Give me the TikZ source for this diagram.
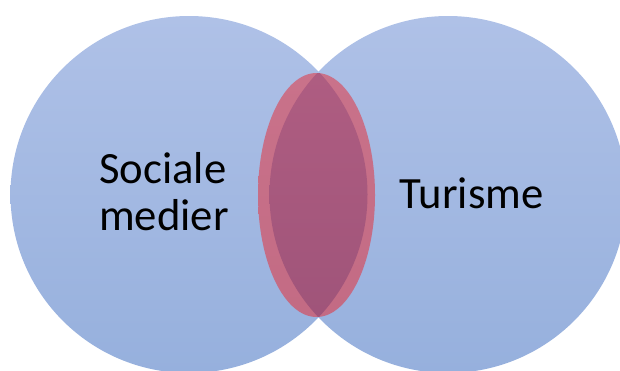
\documentclass[tikz,border=0pt]{standalone}
\usepackage{fontspec}
\setmainfont{Carlito}
\begin{document}
\begin{tikzpicture}[x=1pt,y=-1pt,
  setfill/.style={top color={rgb,255:red,175;green,193;blue,231},
                  bottom color={rgb,255:red,150;green,176;blue,221}},
  ringfill/.style={top color={rgb,255:red,201;green,114;blue,138},
                   bottom color={rgb,255:red,195;green,107;blue,132}},
  lensfill/.style={top color={rgb,255:red,178;green,95;blue,131},
                   bottom color={rgb,255:red,156;green,82;blue,120}},
  label/.style={font=\fontsize{44.7}{47}\selectfont, text=black, inner sep=0pt, align=left}]
  \useasboundingbox (0,0) rectangle (620,370);
  % the two sets
  \shade[setfill] (189,194.5) circle [radius=178.5pt];
  \shade[setfill] (448,194.5) circle [radius=178.5pt];
  % highlighted overlap
  \shade[ringfill] (316.5,195) ellipse [x radius=58.5pt, y radius=122pt];
  \begin{scope}
    \clip (316.5,195) ellipse [x radius=58.5pt, y radius=122pt];
    \clip (189,194.5) circle [radius=178.5pt];
    \shade[lensfill] (448,194.5) circle [radius=178.5pt];
  \end{scope}
  % labels (a multi-line node sits on the baseline of its last line)
  \node[label, anchor=base west] (social) at (99,230) {Sociale\\medier};
  \node[label, anchor=base west] (tourism) at (399.5,208) {Turisme};
\end{tikzpicture}
\end{document}
